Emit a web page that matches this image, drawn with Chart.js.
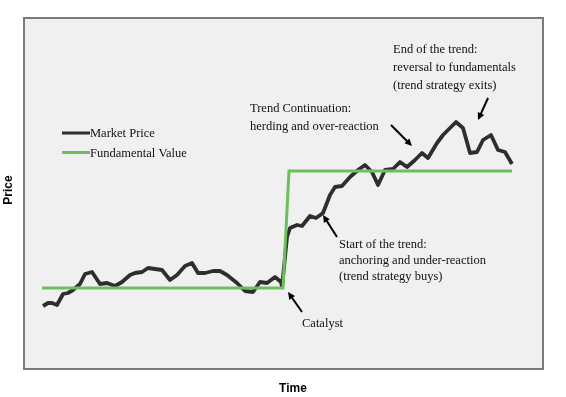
<!DOCTYPE html>
<html>
<head>
<meta charset="utf-8">
<script src="https://cdn.jsdelivr.net/npm/chart.js@4/dist/chart.umd.min.js"></script>
<style>
    body { margin: 0; background: #fff; }
    #wrap { width: 566px; height: 397px; position: relative; }
</style>
</head>
<body>
<div id="wrap"><canvas id="trend-chart"></canvas></div>
<script>
'use strict';

// time / price in arbitrary units
const marketTime = [19, 24, 28, 33, 39, 44, 49, 56, 61, 68, 76, 83, 91, 98, 106, 111, 118, 124, 131, 138,
    146, 153, 161, 168, 174, 181, 189, 196, 203, 213, 221, 229, 236, 243, 251, 257, 258,
    263, 266, 273, 278, 286, 292, 299, 306, 311, 318, 326, 334, 341, 348, 354, 361, 369,
    376, 383, 391, 398, 404, 413, 419, 432, 439, 446, 453, 459, 467, 474, 481, 488];
const marketPrice = [63, 66, 66, 64, 75, 76, 79, 85, 95, 97, 85, 86, 83, 87, 94, 96, 97, 101, 100, 99,
    89, 94, 103, 106, 96, 96, 98, 98, 94, 86, 78, 77, 87, 86, 92, 87, 82,
    132, 141, 144, 143, 153, 151, 156, 174, 182, 183, 192, 199, 204, 197, 184, 199, 200,
    207, 202, 209, 216, 211, 226, 234, 247, 241, 216, 217, 229, 234, 219, 217, 205];

const fundamentalTime = [18, 259, 265, 488];
const fundamentalValue = [81, 81, 198, 198];

const seriesNames = ['Market Price', 'Fundamental Value'];
const seriesColors = ['#2e2e2e', '#6cbf5c'];

// text notes: [lines, x, first baseline, line step]
const notes = [
    [['End of the trend:', 'reversal to fundamentals', '(trend strategy exits)'], 393, 53, 18],
    [['Trend Continuation:', 'herding and over-reaction'], 250, 112, 18],
    [['Start of the trend:', 'anchoring and under-reaction', '(trend strategy buys)'], 339, 248, 16],
    [['Catalyst'], 302, 327, 16]
];
// arrows in data units: [fromT, fromP, toT, toP]
const arrows = [
    [278, 57, 264, 77],
    [313, 132, 299, 154],
    [367, 244, 388, 223],
    [464, 271, 454, 249]
];

function toPoints(xs, ys) {
    return xs.map((x, i) => ({x: x, y: ys[i]}));
}

function drawArrow(ctx, x1, y1, x2, y2) {
    const ang = Math.atan2(y2 - y1, x2 - x1);
    const head = 8;
    ctx.beginPath();
    ctx.moveTo(x1, y1);
    ctx.lineTo(x2 - Math.cos(ang) * 4, y2 - Math.sin(ang) * 4);
    ctx.lineWidth = 2;
    ctx.strokeStyle = '#000';
    ctx.stroke();
    ctx.beginPath();
    ctx.moveTo(x2, y2);
    ctx.lineTo(x2 - head * Math.cos(ang - 0.45), y2 - head * Math.sin(ang - 0.45));
    ctx.lineTo(x2 - head * Math.cos(ang + 0.45), y2 - head * Math.sin(ang + 0.45));
    ctx.closePath();
    ctx.fillStyle = '#000';
    ctx.fill();
}

const framePlugin = {
    id: 'frame',
    beforeDraw(chart) {
        const {ctx, chartArea: a} = chart;
        ctx.save();
        ctx.fillStyle = '#f0f0f0';
        ctx.fillRect(a.left, a.top, a.right - a.left, a.bottom - a.top);
        ctx.restore();
    },
    afterDraw(chart) {
        const {ctx, chartArea: a, scales} = chart;
        const xs = scales.x, ys = scales.y;
        ctx.save();
        ctx.strokeStyle = '#7a7a7a';
        ctx.lineWidth = 2;
        ctx.strokeRect(a.left, a.top, a.right - a.left, a.bottom - a.top);

        // axis titles
        ctx.fillStyle = '#000';
        ctx.font = 'bold 12px "Liberation Sans", Arial, sans-serif';
        ctx.textAlign = 'center';
        ctx.textBaseline = 'middle';
        ctx.fillText('Time', 293, 389);
        ctx.save();
        ctx.translate(9, 190);
        ctx.rotate(-Math.PI / 2);
        ctx.fillText('Price', 0, 0);
        ctx.restore();

        // legend
        ctx.font = '12.5px "Liberation Serif", "Times New Roman", serif';
        ctx.textAlign = 'left';
        seriesNames.forEach((name, i) => {
            const y = 133 + i * 19.5;
            ctx.beginPath();
            ctx.moveTo(62, y);
            ctx.lineTo(90, y);
            ctx.lineWidth = 3;
            ctx.strokeStyle = seriesColors[i];
            ctx.stroke();
            ctx.fillStyle = '#111';
            ctx.fillText(name, 90, y + 1);
        });

        // notes
        ctx.textBaseline = 'alphabetic';
        for (const [lines, x, y0, step] of notes)
            lines.forEach((line, i) => ctx.fillText(line, x, y0 + i * step));

        for (const [t1, p1, t2, p2] of arrows)
            drawArrow(ctx, xs.getPixelForValue(t1), ys.getPixelForValue(p1),
                xs.getPixelForValue(t2), ys.getPixelForValue(p2));
        ctx.restore();
    }
};

new Chart(document.getElementById('trend-chart').getContext('2d'), {
    type: 'line',
    data: {
        datasets: [{
            label: seriesNames[1],
            data: toPoints(fundamentalTime, fundamentalValue),
            borderColor: seriesColors[1],
            borderWidth: 3,
            pointRadius: 0,
            tension: 0
        }, {
            label: seriesNames[0],
            data: toPoints(marketTime, marketPrice),
            borderColor: seriesColors[0],
            borderWidth: 3.8,
            pointRadius: 0,
            borderJoinStyle: 'round',
            tension: 0
        }]
    },
    options: {
        responsive: true,
        maintainAspectRatio: false,
        animation: false,
        layout: {padding: {left: 24, top: 18, right: 23, bottom: 28}},
        plugins: {legend: {display: false}, tooltip: {enabled: false}},
        scales: {
            x: {type: 'linear', min: 0, max: 519, display: false},
            y: {type: 'linear', min: 0, max: 351, display: false}
        }
    },
    plugins: [framePlugin]
});
</script>
</body>
</html>
